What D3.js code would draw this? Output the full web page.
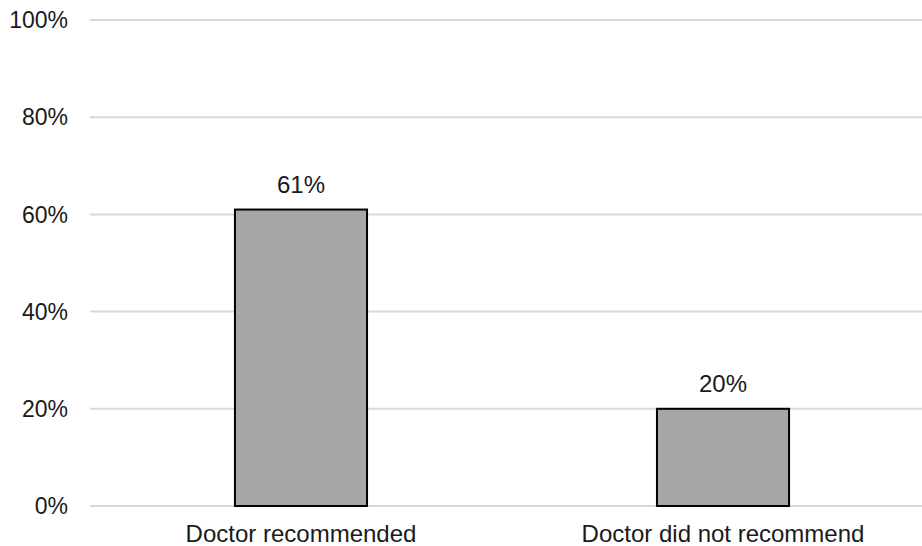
<!DOCTYPE html>
<html><head><meta charset="utf-8">
<script src="https://cdn.jsdelivr.net/npm/d3@7"></script>
<style>html,body{margin:0;padding:0;background:#fff;}svg{display:block;}</style>
</head><body>
<svg id="c" width="922" height="546"></svg>
<script>
const categories = ["Doctor recommended", "Doctor did not recommend"];
const values = [61, 20];
const tickValues = [0, 20, 40, 60, 80, 100];

const svg = d3.select("#c");
const W = 922, H = 546;
const x = d3.scaleBand().domain(categories).range([90, 934]).paddingInner(0.687).paddingOuter(0.3435);
const y = d3.scaleLinear().domain([0, 100]).range([506, 20]);
const font = "'Liberation Sans', Arial, sans-serif";

// gridlines
svg.append("g").selectAll("line").data(tickValues).join("line")
  .attr("x1", 90).attr("x2", W)
  .attr("y1", d => y(d)).attr("y2", d => y(d))
  .attr("stroke", "#d9d9d9").attr("stroke-width", 2);

// y tick labels
svg.append("g").selectAll("text").data(tickValues).join("text")
  .attr("x", 68).attr("y", d => y(d)).attr("dy", "0.36em")
  .attr("text-anchor", "end")
  .attr("font-family", font).attr("font-size", 23).attr("fill", "#1a1a1a")
  .text(d => d + "%");

// bars
svg.append("g").selectAll("rect").data(values).join("rect")
  .attr("x", (d, i) => x(categories[i]))
  .attr("y", d => y(d))
  .attr("width", x.bandwidth())
  .attr("height", d => y(0) - y(d))
  .attr("fill", "#a6a6a6").attr("stroke", "#000").attr("stroke-width", 2);

// value labels
svg.append("g").selectAll("text").data(values).join("text")
  .attr("x", (d, i) => x(categories[i]) + x.bandwidth() / 2)
  .attr("y", d => y(d) - 17)
  .attr("text-anchor", "middle")
  .attr("font-family", font).attr("font-size", 24).attr("fill", "#1a1a1a")
  .text(d => d + "%");

// x labels
svg.append("g").selectAll("text").data(categories).join("text")
  .attr("x", d => x(d) + x.bandwidth() / 2)
  .attr("y", 542)
  .attr("text-anchor", "middle")
  .attr("font-family", font).attr("font-size", 24).attr("fill", "#1a1a1a")
  .text(d => d);
</script>
</body></html>
